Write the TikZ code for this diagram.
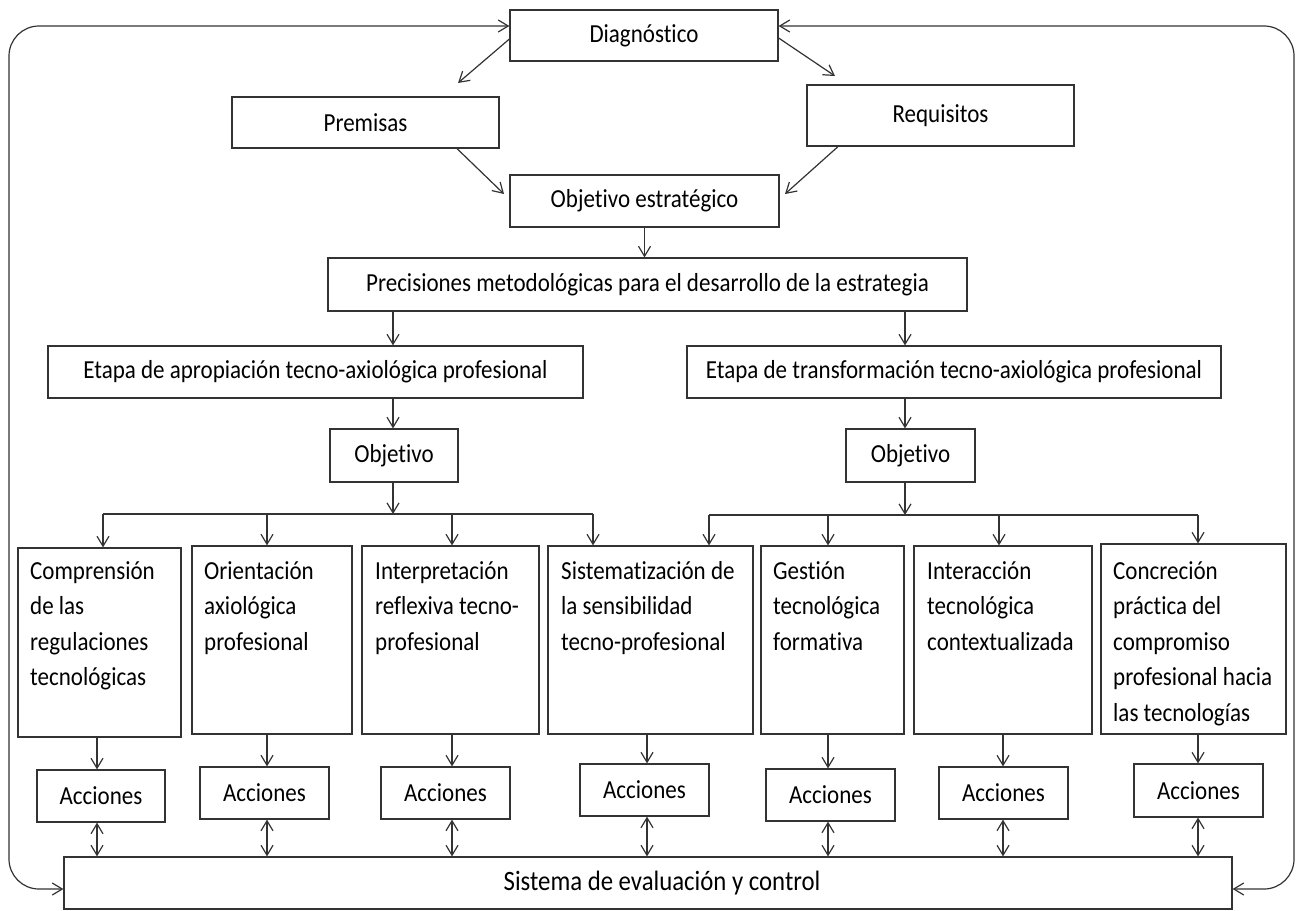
\documentclass[tikz,border=0pt]{standalone}
\usepackage{fontspec}
\setmainfont{Carlito}[FakeStretch=0.885,Ligatures=NoCommon]
\usetikzlibrary{arrows.meta,calc}
\newcommand{\bxn}[6]{\node[box, minimum width={(#4-#2)*1pt}, minimum height={(#5-#3)*1pt}] (#1) at ({(#2+#4)/2},{(#3+#5)/2}) {#6};}
\begin{document}
\begin{tikzpicture}[x=1pt,y=-1pt,
  ln/.style={draw=black!80, line width=1.2pt},
  box/.style={ln, rectangle, inner sep=0pt, font=\fontsize{26}{30}\selectfont},
  btxt/.style={inner sep=0pt, anchor=north west, align=left, font=\fontsize{26}{35.5}\selectfont},
  bb/.tip={Straight Barb[length=10pt,width=12pt]},
  arr/.style={ln, -bb},
  darr/.style={ln, bb-bb},
]
\useasboundingbox (0,0) rectangle (1297,910);

% top part
\bxn{diag}{510}{10}{778}{61}{Diagnóstico}
\bxn{prem}{232}{97}{499}{148}{Premisas}
\bxn{req}{807}{85}{1074}{146}{\raisebox{3pt}{Requisitos}}
\bxn{obje}{510}{175}{779}{227}{Objetivo estratégico}
\bxn{prec}{328}{258}{967}{311}{Precisiones metodológicas para el desarrollo de la estrategia}
\bxn{etL}{48}{346}{583}{398}{Etapa de apropiación tecno-axiológica profesional}
\bxn{etR}{687}{346}{1221}{398}{Etapa de transformación tecno-axiológica profesional}
\bxn{objL}{330}{429}{458}{482}{Objetivo}
\bxn{objR}{846}{429}{975}{482}{Objetivo}

% big boxes
\bxn{b1}{18}{548}{181}{737}{}
\bxn{b2}{192}{546}{352}{734}{}
\bxn{b3}{362}{546}{539}{734}{}
\bxn{b4}{548}{546}{753}{734}{}
\bxn{b5}{761}{546}{904}{734}{}
\bxn{b6}{914}{546}{1092}{734}{}
\bxn{b7}{1101}{544}{1286}{734}{}
\node[btxt] (t1) at (30,561) {Comprensión\\de las\\regulaciones\\tecnológicas};
\node[btxt] (t2) at (204,561) {Orientación\\axiológica\\profesional};
\node[btxt] (t3) at (375,561) {Interpretación\\reflexiva tecno-\\profesional};
\node[btxt] (t4) at (561,561) {Sistematización de\\la sensibilidad\\tecno-profesional};
\node[btxt] (t5) at (773,561) {Gestión\\tecnológica\\formativa};
\node[btxt] (t6) at (927,561) {Interacción\\tecnológica\\contextualizada};
\node[btxt] (t7) at (1113,561) {Concreción\\práctica del\\compromiso\\profesional hacia\\las tecnologías};

% acciones
\bxn{a1}{37}{770}{165}{822}{Acciones}
\bxn{a2}{200}{767}{329}{819}{Acciones}
\bxn{a3}{381}{767}{510}{819}{Acciones}
\bxn{a4}{580}{764}{709}{816}{Acciones}
\bxn{a5}{766}{769}{895}{821}{Acciones}
\bxn{a6}{939}{767}{1068}{819}{Acciones}
\bxn{a7}{1134}{764}{1263}{817}{Acciones}

\bxn{sis}{64}{857}{1232}{909}{\hspace*{28pt}\fontsize{28}{30}\selectfont Sistema de evaluación y control}

% feedback loops
\coordinate (lb) at (9,889);
\coordinate (lt) at (9,26);
\coordinate (rb) at (1294,889);
\coordinate (rt) at (1294,26);
\draw[darr, rounded corners=30pt] ([yshift=-6pt]sis.west) -- (lb) -- (lt) -- ([yshift=9.5pt]diag.west);
\draw[darr, rounded corners=30pt] ([yshift=-6pt]sis.east) -- (rb) -- (rt) -- ([yshift=9.5pt]diag.east);

% diagonal arrows
\coordinate (pT) at (458,83);
\coordinate (rT) at (835,76);
\coordinate (oT1) at (504,194);
\coordinate (oT2) at (785,194);
\draw[arr] ([yshift=-3.5pt]diag.west) -- (pT);
\draw[arr] ([yshift=-2.5pt]diag.east) -- (rT);
\draw[arr] ([xshift=91.5pt]prem.south) -- (oT1);
\draw[arr] ([xshift=-102.5pt]req.south) -- (oT2);

% vertical chain
\coordinate (xL) at (393,0);
\coordinate (xR) at (905,0);
\draw[arr] (obje.south) -- (obje.south |- prec.north);
\draw[arr] (prec.south -| xL) -- (etL.north -| xL);
\draw[arr] (prec.south -| xR) -- (etR.north -| xR);
\draw[arr] (etL.south -| xL) -- (objL.north -| xL);
\draw[arr] (etR.south -| xR) -- (objR.north -| xR);
\coordinate (busL) at (393,514);
\coordinate (busR) at (905,515);
\draw[arr] (objL.south -| xL) -- (busL);
\draw[arr] (objR.south -| xR) -- (busR);

% buses
\coordinate (d1) at (103,514);
\coordinate (d2) at (267,514);
\coordinate (d3) at (452,514);
\coordinate (d4) at (593,514);
\coordinate (d5) at (709,515);
\coordinate (d6) at (828,515);
\coordinate (d7) at (999,515);
\coordinate (d8) at (1198,515);
\draw[ln] (d1) -- (d4);
\draw[ln] (d5) -- (d8);
\draw[arr] (d1) -- (d1 |- b1.north);
\draw[arr] (d2) -- (d2 |- b2.north);
\draw[arr] (d3) -- (d3 |- b3.north);
\draw[arr] (d4) -- (d4 |- b4.north);
\draw[arr] (d5) -- (d5 |- b4.north);
\draw[arr] (d6) -- (d6 |- b5.north);
\draw[arr] (d7) -- (d7 |- b6.north);
\draw[arr] (d8) -- (d8 |- b7.north);

% lower arrows
\coordinate (e1) at (97,0);
\coordinate (e2) at (267,0);
\coordinate (e3) at (452,0);
\coordinate (e4) at (647,0);
\coordinate (e5) at (828,0);
\coordinate (e6) at (1003,0);
\coordinate (e7) at (1198,0);
\foreach \i in {1,...,7} {
  \draw[arr] (b\i.south -| e\i) -- (a\i.north -| e\i);
  \draw[darr] (a\i.south -| e\i) -- (sis.north -| e\i);
}
\end{tikzpicture}
\end{document}
